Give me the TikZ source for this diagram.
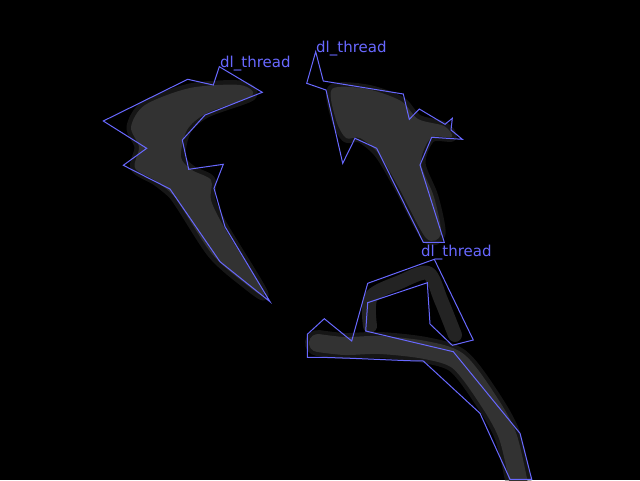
\documentclass[tikz,border=0pt]{standalone}
\usepackage{fontspec}
\newfontfamily\labelfont{DejaVu Sans}
\usetikzlibrary{positioning}
\definecolor{threadblue}{RGB}{104,104,255}
\definecolor{threadgray}{RGB}{50,50,50}
\tikzset{
  outline/.style={draw=threadblue, line width=1pt, line join=miter},
  blob/.style={fill=threadgray, preaction={draw=threadgray, line width=9pt, opacity=0.45, line join=round}},
  band/.style={draw=threadgray, line cap=round, line join=round},
  threadlabel/.style={text=threadblue, font=\labelfont\fontsize{15}{15}\selectfont, inner sep=0pt, anchor=base west}
}

\begin{document}
\begin{tikzpicture}[x=1pt,y=-1pt]
		\fill[black] (0,0) rectangle (640,480);
		\clip (0,0) rectangle (640,480);
		% gray regions
		\path[blob] plot[smooth cycle] coordinates {(145,105) (190,88) (240,85) (252,96) (207,113) (187,130) (181,157) (192,170) (211,180) (211,200) (224,227) (264,294) (242,281) (212,254) (182,208) (172,194) (156,181) (135,168) (139,147) (131,127)};
		\path[blob] plot[smooth cycle] coordinates {(332,89) (367,89) (401,101) (418,119) (444,126) (452,137) (431,138) (421,163) (434,197) (441,234) (426,238) (399,188) (379,154) (360,138) (346,138) (336,120)};
		\draw[band, line width=26pt, opacity=0.45] plot[smooth] coordinates {(318,343) (345,346) (380,345) (425,350) (458,361) (486,397) (508,437) (522,500)};
		\draw[band, line width=18pt] plot[smooth] coordinates {(318,343) (345,346) (380,345) (425,350) (458,361) (486,397) (508,437) (522,500)};
		\draw[band, line width=14pt, opacity=0.7] plot[smooth] coordinates {(370,326) (371,297) (400,282) (428,273) (441,300) (455,335)};
		% outlines
		\draw[outline] (219.3,66.7) -- (262.3,92.3) -- (205,115) -- (182.3,140) -- (188.7,169.3) -- (223.3,164.3) -- (214,188.3) -- (225,226.7) -- (270,301.7) -- (220,261.7) -- (170,189) -- (123.3,165.3) -- (146.7,148.3) -- (103.3,121) -- (187.7,79.3) -- (213.3,85) -- cycle;
		\draw[outline] (315.7,51.7) -- (323.3,81) -- (403.3,94) -- (409.3,119.3) -- (419.3,109) -- (445,124.3) -- (452.3,118.3) -- (451,130) -- (462.3,139.3) -- (431.7,137.3) -- (420,165) -- (444.3,242.3) -- (423.3,242.3) -- (376.7,148.3) -- (355,138.3) -- (342.7,163.3) -- (326,90) -- (306.7,83.3) -- cycle;
		\draw[outline] (434.3,259.3) -- (473.3,340) -- (452.3,345.3) -- (430,324) -- (427.3,282.7) -- (367.7,302.7) -- (365.7,331) -- (453.3,351.7) -- (520,433.3) -- (531.7,479.3) -- (510,479.3) -- (480,413.3) -- (423.3,361) -- (408.3,360.7) -- (351.7,358.3) -- (321.7,357.3) -- (307.3,357.3) -- (307.3,334.3) -- (324.3,318.7) -- (351.7,341) -- (367.7,283.3) -- cycle;
		% labels
		\node[threadlabel] (lblleft) at (220,67) {dl\_thread};
		\node[threadlabel] (lbltop) at (316,52) {dl\_thread};
		\node[threadlabel] (lblbottom) at (421,256) {dl\_thread};
\end{tikzpicture}
\end{document}
